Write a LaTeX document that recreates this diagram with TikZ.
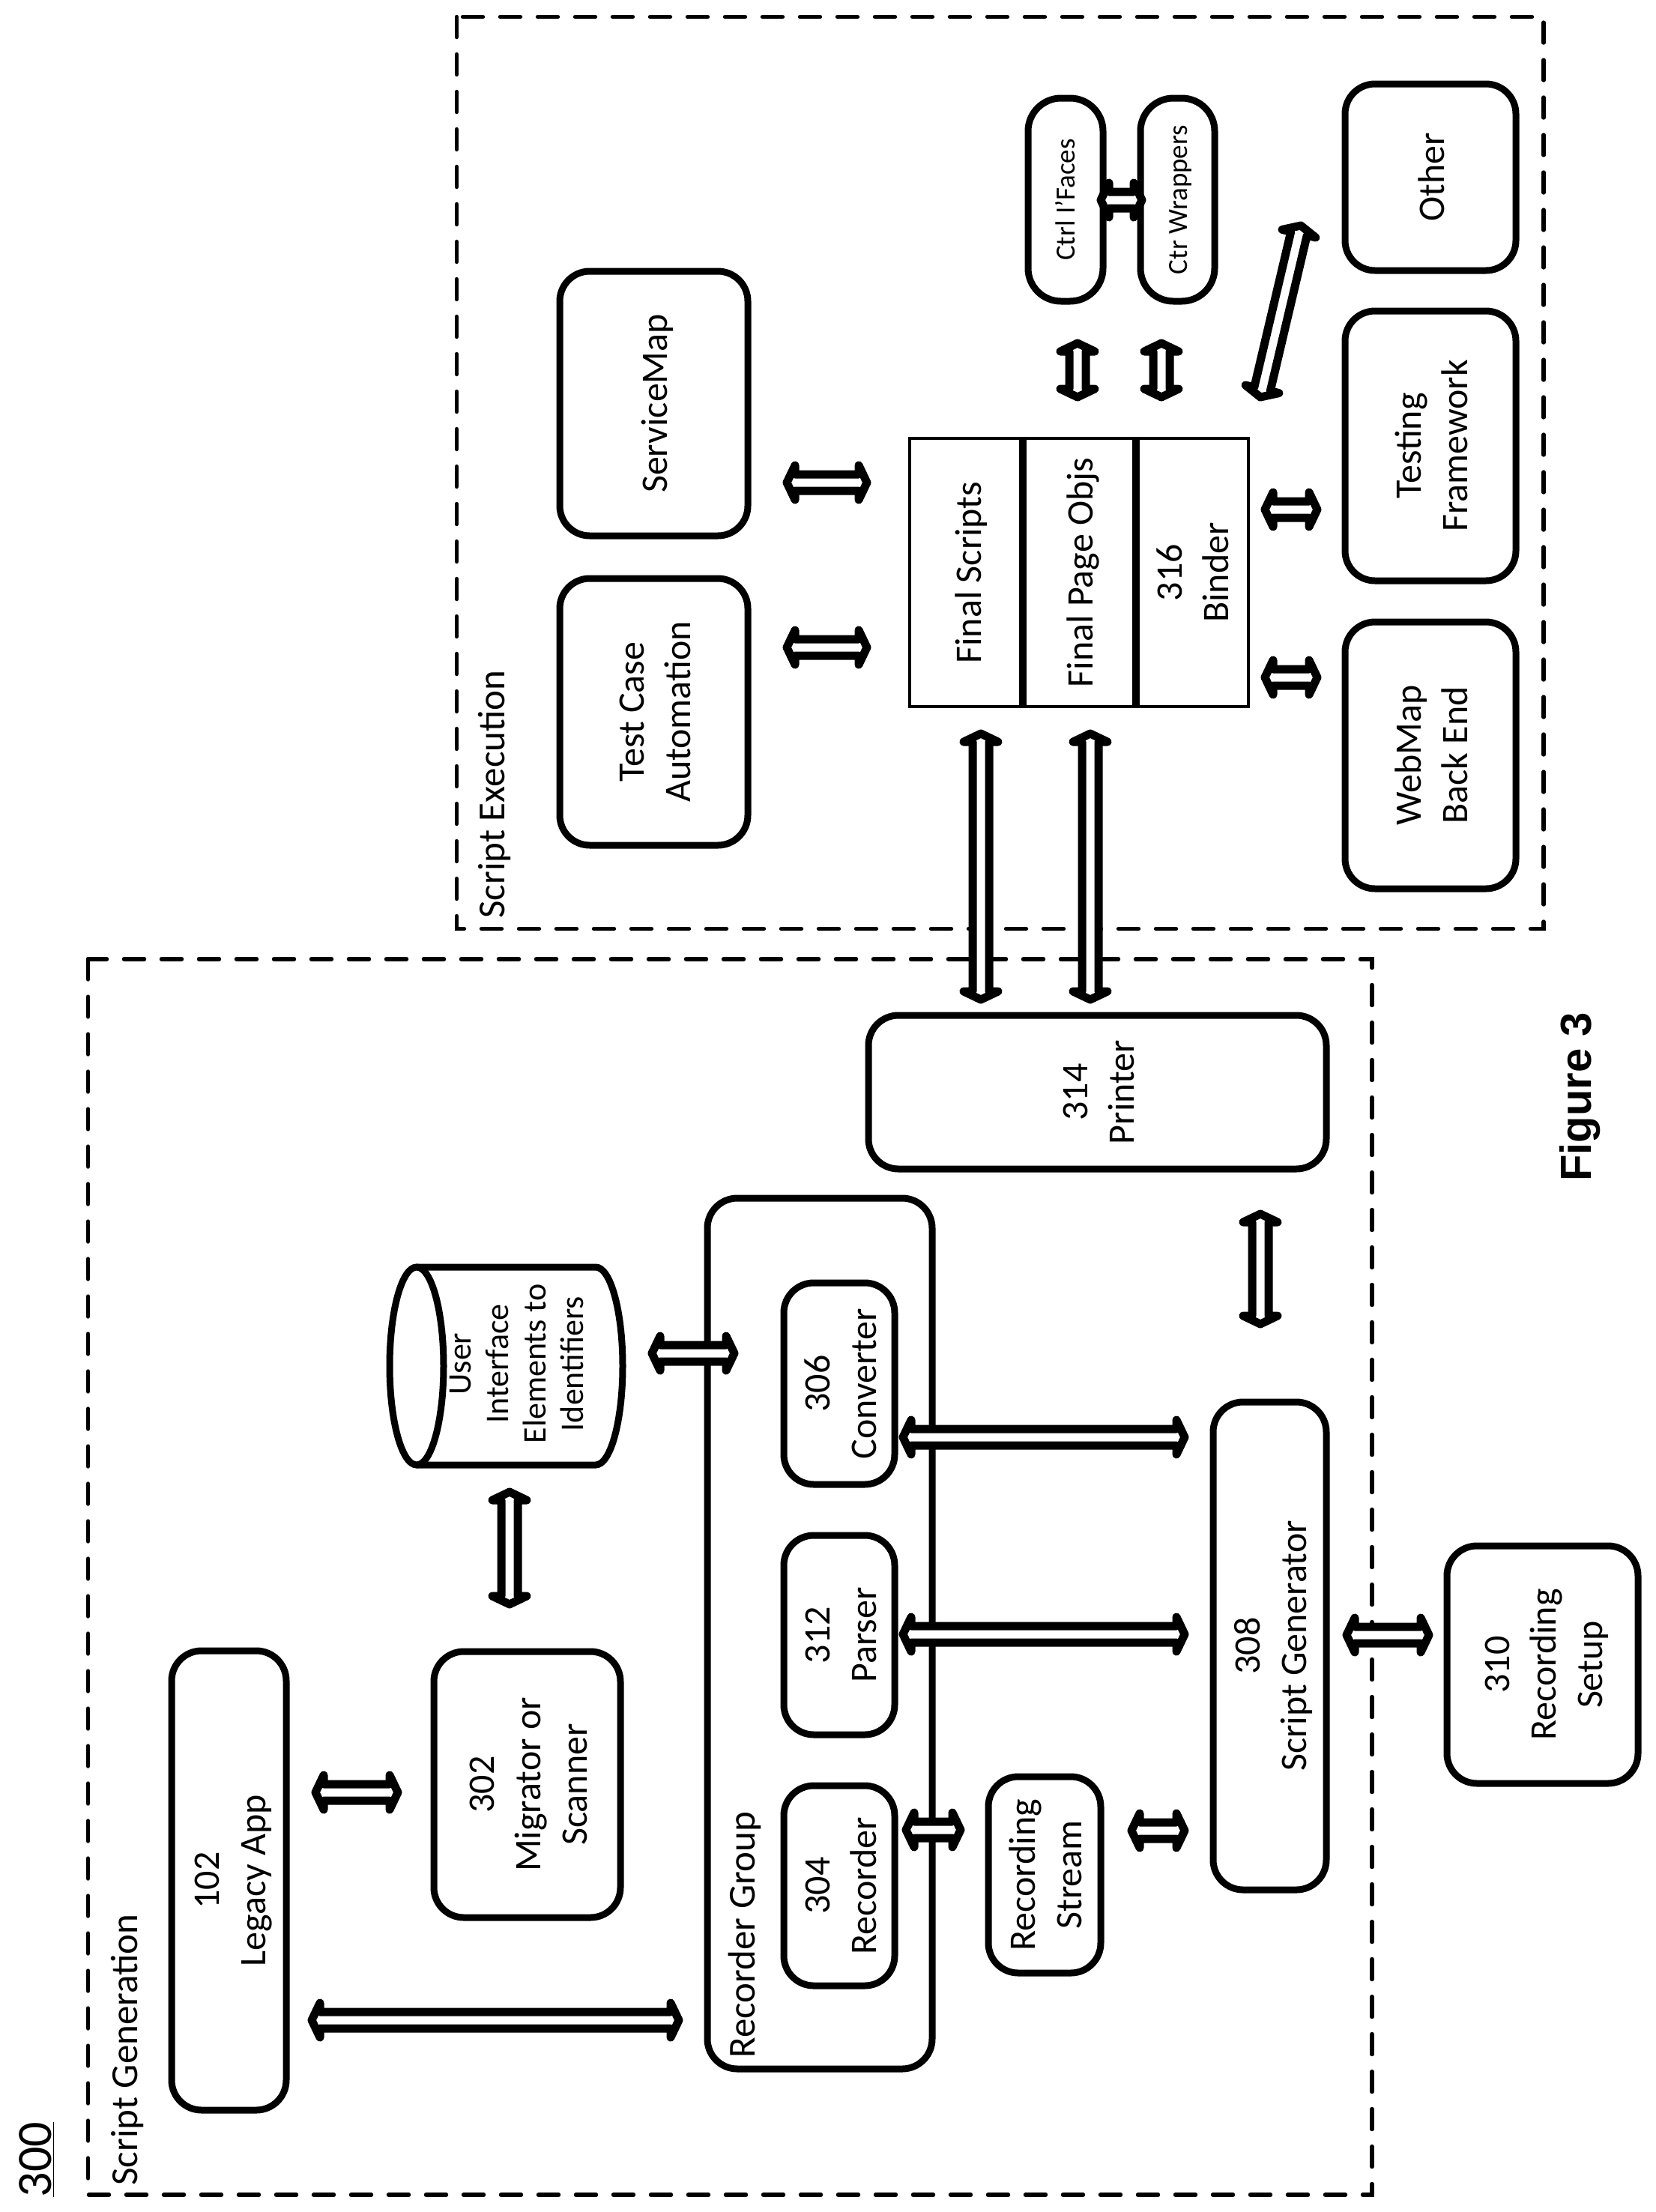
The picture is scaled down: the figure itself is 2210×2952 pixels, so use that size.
\documentclass[tikz,border=0pt]{standalone}
\usepackage{fontspec}
\setmainfont{Carlito}
\newfontfamily\figfont{Liberation Sans}
\usetikzlibrary{calc}
\tikzset{
  x=0.5pt,y=-0.5pt,
  boxtext/.style={font=\fontsize{25}{31}\selectfont,align=center,inner sep=0pt},
  roundbox/.style={boxtext,draw=black,line width=4.5pt,rounded corners=20pt},
  tightbox/.style={roundbox,rounded corners=22pt,font=\fontsize{18.5}{22}\selectfont},
  cellbox/.style={boxtext,draw=black,line width=2.4pt},
  dashbox/.style={draw=black,line width=2.7pt,line cap=round,dash pattern=on 13.5pt off 11.5pt},
  blockline/.style={draw=black,fill=white,line width=5.5pt,line join=round},
  arealabel/.style={font=\fontsize{25.5}{30}\selectfont,inner sep=0pt,rotate=90,anchor=west},
}
\def\bxdrop{-3pt}
\newcommand\bx[7]{%
  \pgfmathsetmacro\bxcx{(#3+#5)/2}%
  \pgfmathsetmacro\bxcy{(#4+#6)/2}%
  \pgfmathsetmacro\bxw{(#6-#4)*0.5}%
  \pgfmathsetmacro\bxh{(#5-#3)*0.5}%
  \node[#1,rotate=90,minimum width=\bxw pt,minimum height=\bxh pt] (#2) at (\bxcx,\bxcy) {\raisebox{\bxdrop}[\height][\depth]{\begin{tabular}{@{}c@{}}#7\end{tabular}}};%
}
% block double arrow between two named coordinates
\newcommand\blockarrow[2]{%
  \coordinate (ha) at ($(#1)!5.5pt!(#2)$);%
  \coordinate (hb) at ($(#2)!5.5pt!(#1)$);%
  \draw[blockline] (#1) -- ($(ha)!11.5pt!90:(#2)$) -- ($(ha)!5.5pt!90:(#2)$)
    -- ($(hb)!5.5pt!-90:(#1)$) -- ($(hb)!11.5pt!-90:(#1)$) -- (#2)
    -- ($(hb)!11.5pt!90:(#1)$) -- ($(hb)!5.5pt!90:(#1)$)
    -- ($(ha)!5.5pt!-90:(#2)$) -- ($(ha)!11.5pt!-90:(#2)$) -- cycle;%
}
\newcommand\conn[5]{%
  \coordinate (#1a) at (#2,#3);\coordinate (#1b) at (#4,#5);\blockarrow{#1a}{#1b}%
}
\begin{document}
\begin{tikzpicture}
\useasboundingbox (0,0) rectangle (2210,2952);
% dashed areas
\bx{dashbox}{genarea}{117.5}{1280}{1831}{2929}{}
\bx{dashbox}{execarea}{609.5}{22.5}{2060}{1239.5}{}
\node[arealabel] (genlabel) at (170,2917) {Script Generation};
\node[arealabel] (execlabel) at (660,1226) {Script Execution};
\node[font=\fontsize{33}{38}\selectfont,rotate=90,inner sep=0pt] (fig300) at (49,2882) {\underline{300}};
\node[font=\figfont\bfseries\fontsize{29}{34}\selectfont,rotate=90,inner sep=0pt,anchor=base west] (figlabel) at (2123,1577) {Figure 3};
% generation side
\bx{roundbox}{legacy}{229}{2203}{382}{2816}{102\\Legacy App}
\bx{roundbox}{migrator}{579}{2204}{828}{2559}{302\\Migrator or\\Scanner}
\bx{roundbox}{group}{944}{1599}{1244}{2761}{}
\node[arealabel] (grouplabel) at (994,2747) {Recorder Group};
\bx{roundbox}{converter}{1046}{1712}{1194}{1981}{306\\Converter}
\bx{roundbox}{parser}{1046}{2049}{1194}{2315}{312\\Parser}
\bx{roundbox}{recorder}{1046}{2383}{1194}{2650}{304\\Recorder}
\bx{roundbox}{stream}{1319}{2371}{1469}{2633}{Recording\\Stream}
\bx{roundbox}{scriptgen}{1619}{1871}{1770}{2522}{308\\Script Generator}
\bx{roundbox}{printer}{1159}{1355}{1770}{1560}{314\\Printer}
\bx{roundbox}{setup}{1931}{2063}{2186}{2380}{310\\Recording\\Setup}
% database
\draw[draw=black,line width=4.5pt] (556,1691) -- (795,1691) arc[start angle=-90,end angle=90,x radius=36,y radius=132] -- (556,1955);
\draw[draw=black,line width=4.5pt] (556,1823) ellipse[x radius=36,y radius=132];
\node[boxtext,font=\fontsize{22}{25}\selectfont,rotate=90] (db) at (690,1820) {User\\Interface\\Elements to\\Identifiers};
% execution side
\bx{roundbox}{testcase}{747}{772}{998}{1128}{Test Case\\Automation}
\bx{roundbox}{servicemap}{747}{362}{998}{715}{ServiceMap}
\bx{cellbox}{scripts}{1214}{585}{1367.4}{943}{Final Scripts}
\bx{cellbox}{pageobjs}{1362.6}{585}{1518.4}{943}{Final Page Objs}
\bx{cellbox}{binder}{1513.6}{585}{1666}{943}{316\\Binder}
\def\bxdrop{-2pt}
\bx{tightbox}{ctrl}{1372}{131}{1472}{402}{Ctrl I’Faces}
\bx{tightbox}{wrap}{1522}{131}{1621}{402}{Ctr Wrappers}
\def\bxdrop{-3pt}
\bx{roundbox}{other}{1795}{112}{2023}{361}{Other}
\bx{roundbox}{testing}{1795}{415}{2023}{775}{Testing\\Framework}
\bx{roundbox}{webmap}{1795}{830}{2023}{1186}{WebMap\\Back End}
% connectors
\conn{a1}{1438}{530}{1438}{458}
\conn{a2}{1550}{530}{1550}{458}
\conn{a3}{1469}{267}{1524}{267}
\conn{a4}{1682}{530}{1736}{301}
\conn{a5}{1688}{680}{1758}{680}
\conn{a6}{1688}{904}{1758}{904}
\conn{a7}{1050}{644}{1157}{644}
\conn{a8}{1050}{864}{1157}{864}
\conn{a9}{1309}{979}{1309}{1334}
\conn{a10}{1455}{979}{1455}{1334}
\conn{a11}{1682}{1620}{1682}{1767}
\conn{a12}{870}{1806}{980}{1806}
\conn{a13}{680}{1991}{680}{2141}
\conn{a14}{421}{2392}{531}{2392}
\conn{a15}{416}{2696}{906}{2696}
\conn{a16}{1205}{1918}{1581}{1918}
\conn{a17}{1205}{2181}{1581}{2181}
\conn{a18}{1209}{2442}{1282}{2442}
\conn{a19}{1510}{2443}{1581}{2443}
\conn{a20}{1797}{2182}{1907}{2182}
\end{tikzpicture}
\end{document}
